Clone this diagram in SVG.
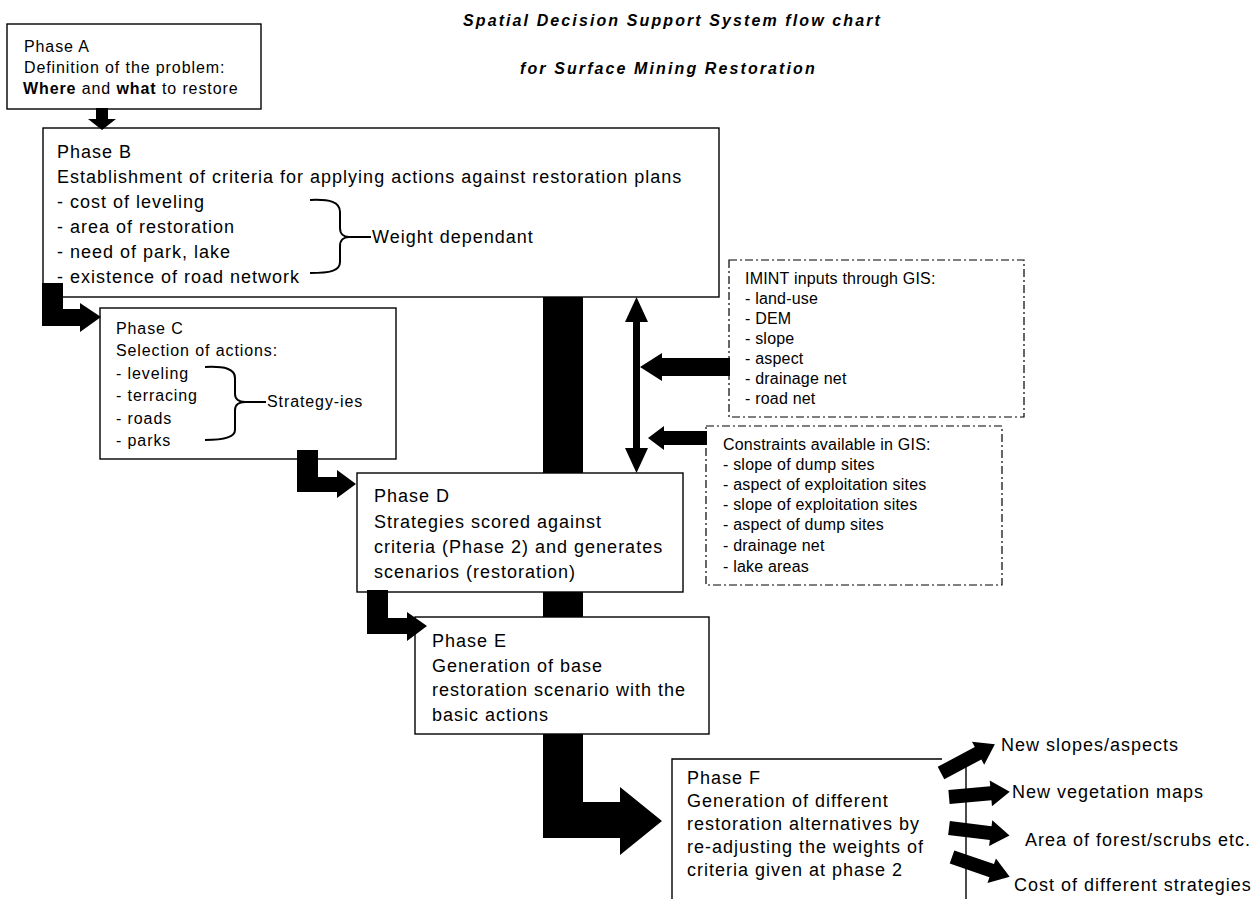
<svg xmlns="http://www.w3.org/2000/svg" xmlns:xlink="http://www.w3.org/1999/xlink" width="1258" height="899" viewBox="0 0 1258 899">
<style>
  .box { fill: #fff; stroke: #000; stroke-width: 1.4; }
  .open { fill: none; stroke: #000; stroke-width: 1.4; }
  .dash { fill: #fff; stroke: #000; stroke-width: 1.2; stroke-dasharray: 8 3 2 3; }
  .t { font-family: "Liberation Sans", Arial, sans-serif; fill: #000; }
  .s17 { font-size: 18px; letter-spacing: 1px; }
  .s15 { font-size: 16px; letter-spacing: 0.9px; }
  .s16 { font-size: 16px; letter-spacing: 0.2px; }
  .title { font-size: 16px; font-weight: bold; font-style: italic; letter-spacing: 2.1px; }
  .b { font-weight: bold; }
  .fill { fill: #000; stroke: none; }
  .brace { fill: none; stroke: #000; stroke-width: 2; }
</style>
<defs>
  <path id="fatArrow" d="M0,-7 H42 V-13 L61,0 L42,13 V7 H0 Z"/>
</defs>
<rect width="1258" height="899" fill="#fff"/>

<g id="title">
  <text class="t title" x="463" y="26">Spatial Decision Support System flow chart</text>
  <text class="t title" x="520" y="74">for Surface Mining Restoration</text>
</g>

<g id="phaseA">
  <rect class="box" x="7" y="24" width="254" height="85"/>
  <text class="t s15" x="24" y="52">Phase A</text>
  <text class="t s15" x="24" y="73">Definition of the problem:</text>
  <text class="t s15" x="23" y="94"><tspan class="b">Where</tspan> and <tspan class="b">what</tspan> to restore</text>
</g>

<g id="phaseB">
  <rect class="box" x="43" y="128" width="676" height="169"/>
  <text class="t s17" x="57" y="158">Phase B</text>
  <text class="t s17" x="57" y="183">Establishment of criteria for applying actions against restoration plans</text>
  <text class="t s17" x="57" y="208">- cost of leveling</text>
  <text class="t s17" x="57" y="233">- area of restoration</text>
  <text class="t s17" x="57" y="258">- need of park, lake</text>
  <text class="t s17" x="57" y="283">- existence of road network</text>
  <path class="brace" d="M310,200 C330,199 340,202 340,212 L340,228 C340,234 344,237 349,237 C344,237 340,240 340,246 L340,262 C340,271 330,273 310,273 M349,237 H371"/>
  <text class="t s17" x="372" y="243">Weight dependant</text>
</g>

<g id="phaseC">
  <rect class="box" x="100" y="308" width="296" height="151"/>
  <text class="t s15" x="116" y="334">Phase C</text>
  <text class="t s15" x="116" y="356">Selection of actions:</text>
  <text class="t s15" x="116" y="379">- leveling</text>
  <text class="t s15" x="116" y="401">- terracing</text>
  <text class="t s15" x="116" y="424">- roads</text>
  <text class="t s15" x="116" y="446">- parks</text>
  <path class="brace" d="M205,367 C225,366 235,369 235,378 L235,394 C235,399 239,402 245,402 C239,402 235,405 235,410 L235,430 C235,437 225,440 205,440 M245,402 H266"/>
  <text class="t s15" x="267" y="407">Strategy-ies</text>
</g>

<g id="phaseD">
  <rect class="box" x="357" y="473" width="326" height="119"/>
  <text class="t s17" x="374" y="502">Phase D</text>
  <text class="t s17" x="374" y="528">Strategies scored against</text>
  <text class="t s17" x="374" y="553">criteria (Phase 2) and generates</text>
  <text class="t s17" x="374" y="578">scenarios (restoration)</text>
</g>

<g id="phaseE">
  <rect class="box" x="415" y="617" width="294" height="117"/>
  <text class="t s17" x="432" y="647">Phase E</text>
  <text class="t s17" x="432" y="672">Generation of base</text>
  <text class="t s17" x="432" y="696">restoration scenario with the</text>
  <text class="t s17" x="432" y="721">basic actions</text>
</g>

<g id="phaseF">
  <path class="open" d="M942,759 H672 V905 M966,766 V905"/>
  <text class="t s17" x="687" y="784">Phase F</text>
  <text class="t s17" x="687" y="807">Generation of different</text>
  <text class="t s17" x="687" y="830">restoration alternatives by</text>
  <text class="t s17" x="687" y="853">re-adjusting the weights of</text>
  <text class="t s17" x="687" y="876">criteria given at phase 2</text>
</g>

<g id="imint">
  <rect class="dash" x="729" y="260" width="295" height="157"/>
  <text class="t s16" x="745" y="284">IMINT inputs through GIS:</text>
  <text class="t s16" x="745" y="304">- land-use</text>
  <text class="t s16" x="745" y="324">- DEM</text>
  <text class="t s16" x="745" y="344">- slope</text>
  <text class="t s16" x="745" y="364">- aspect</text>
  <text class="t s16" x="745" y="384">- drainage net</text>
  <text class="t s16" x="745" y="404">- road net</text>
</g>

<g id="constraints">
  <rect class="dash" x="706" y="426" width="296" height="159"/>
  <text class="t s16" x="723" y="450">Constraints available in GIS:</text>
  <text class="t s16" x="723" y="470">- slope of dump sites</text>
  <text class="t s16" x="723" y="490">- aspect of exploitation sites</text>
  <text class="t s16" x="723" y="510">- slope of exploitation sites</text>
  <text class="t s16" x="723" y="530">- aspect of dump sites</text>
  <text class="t s16" x="723" y="551">- drainage net</text>
  <text class="t s16" x="723" y="572">- lake areas</text>
</g>

<g id="outputs">
  <text class="t s17" x="1001" y="751">New slopes/aspects</text>
  <text class="t s17" x="1012" y="798">New vegetation maps</text>
  <text class="t s17" x="1025" y="846">Area of forest/scrubs etc.</text>
  <text class="t s17" x="1014" y="891">Cost of different strategies</text>
</g>

<g id="connectors">
  <!-- A to B -->
  <path class="fill" d="M96,108 H108 V119 H116 L102,130 L88,119 H96 Z"/>
  <!-- B to C -->
  <path class="fill" d="M42,283 H63 V309 H80 V303 L101,317 L80,332 V326 H42 Z"/>
  <!-- C to D -->
  <path class="fill" d="M297,450 H318 V477 H337 V470 L356,484 L337,498 V492 H297 Z"/>
  <!-- D to E -->
  <path class="fill" d="M367,590 H388 V618 H407 V612 L427,626 L407,641 V634 H367 Z"/>
  <!-- central bar B to F -->
  <path class="fill" d="M543,297 H583 V473 H543 Z M543,592 H583 V617 H543 Z M543,734 H583 V802 H620 V787 L662,821 L620,855 V838 H543 Z"/>
  <!-- double arrow between B and D -->
  <path class="fill" d="M636.5,297 L648,322 H640 V448 H648 L636.5,473 L625,448 H633 V322 H625 Z"/>
  <!-- IMINT to double arrow -->
  <path class="fill" d="M730,358 H662 V353 L640,367 L662,381 V376 H730 Z"/>
  <!-- Constraints to double arrow -->
  <path class="fill" d="M707,431 H664 V426 L648,438 L664,450 V445 H707 Z"/>
  <!-- F outputs -->
  <use xlink:href="#fatArrow" class="fill" transform="translate(941,773) rotate(-28)"/>
  <use xlink:href="#fatArrow" class="fill" transform="translate(949,797) rotate(-5)"/>
  <use xlink:href="#fatArrow" class="fill" transform="translate(949,828) rotate(7)"/>
  <use xlink:href="#fatArrow" class="fill" transform="translate(952,857) rotate(19)"/>
</g>
</svg>
